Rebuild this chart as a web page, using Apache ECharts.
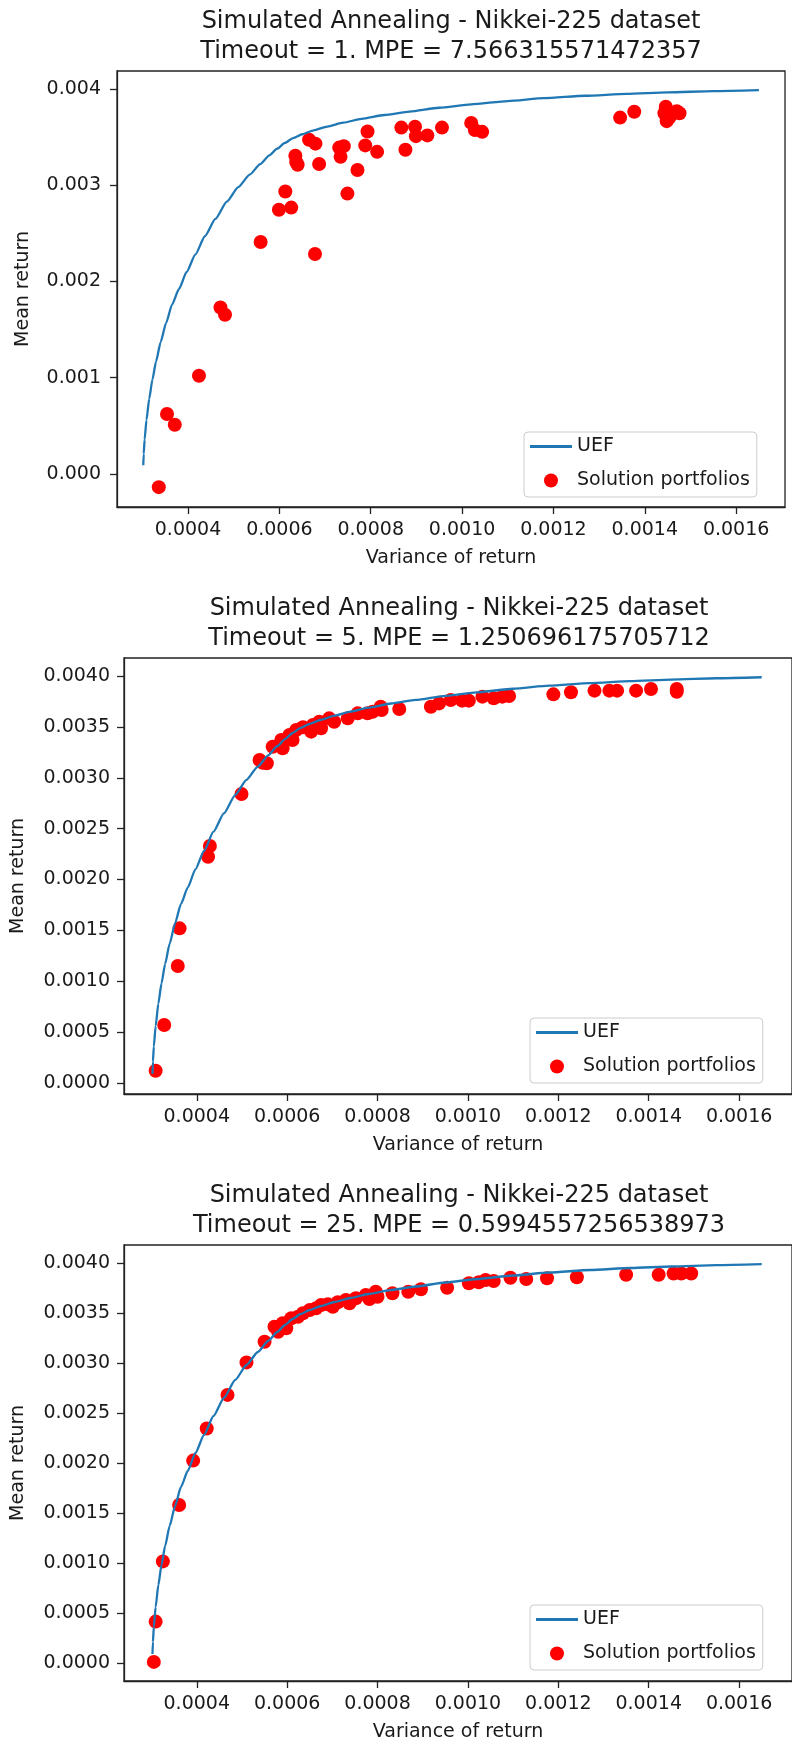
<!DOCTYPE html>
<html>
<head>
<meta charset="utf-8">
<script src="https://cdn.jsdelivr.net/npm/echarts@6/dist/echarts.min.js"></script>
<style>
html, body { margin: 0; padding: 0; background: #ffffff; }
#chart { width: 792px; height: 1745px; }
</style>
</head>
<body>
<div id="chart"></div>
<script>
// ---- Data ----
var titles = [
  'Simulated Annealing - Nikkei-225 dataset\nTimeout = 1. MPE = 7.566315571472357',
  'Simulated Annealing - Nikkei-225 dataset\nTimeout = 5. MPE = 1.250696175705712',
  'Simulated Annealing - Nikkei-225 dataset\nTimeout = 25. MPE = 0.5994557256538973'
];
var xAxisName = 'Variance of return';
var yAxisName = 'Mean return';
var legendNames = ['UEF', 'Solution portfolios'];

var xTicks = [0.0004, 0.0006, 0.0008, 0.0010, 0.0012, 0.0014, 0.0016];
var yTicks1 = [0.000, 0.001, 0.002, 0.003, 0.004];
var yTicks23 = [0.0000, 0.0005, 0.0010, 0.0015, 0.0020, 0.0025, 0.0030, 0.0035, 0.0040];

var uefVar = [0.000302, 0.000303, 0.000305, 0.000309, 0.000315, 0.000322, 0.00033, 0.00034, 0.000352, 0.000365, 0.00038, 0.000397, 0.000416, 0.000437, 0.00046, 0.000485, 0.00051, 0.000535, 0.000558, 0.000578, 0.000595, 0.000612, 0.00063, 0.00065, 0.000675, 0.000705, 0.00074, 0.00078, 0.00083, 0.000885, 0.00095, 0.00102, 0.0011, 0.00118, 0.00127, 0.00136, 0.00145, 0.00155, 0.00165];
var uefMean = [0.00009, 0.00021, 0.00036, 0.00056, 0.00078, 0.00098, 0.00117, 0.00137, 0.00157, 0.00176, 0.00192, 0.0021, 0.00228, 0.00247, 0.00265, 0.00283, 0.00298, 0.00311, 0.00322, 0.00331, 0.00338, 0.00344, 0.00349, 0.00353, 0.00357, 0.00361, 0.00365, 0.00369, 0.00373, 0.003765, 0.003805, 0.00384, 0.003875, 0.003905, 0.00393, 0.00395, 0.003965, 0.003978, 0.003988];

var sol1Var = [0.000336, 0.000354, 0.000371, 0.000424, 0.000471, 0.000481, 0.000559, 0.000599, 0.000613, 0.000626, 0.000635, 0.000637, 0.00064, 0.000665, 0.000679, 0.000687, 0.000678, 0.000731, 0.000741, 0.000734, 0.000749, 0.000771, 0.000788, 0.000793, 0.000814, 0.000867, 0.000876, 0.000897, 0.000899, 0.000924, 0.000956, 0.00102, 0.001028, 0.001044, 0.001346, 0.001377, 0.001446, 0.001443, 0.001448, 0.001459, 0.00147, 0.001476, 0.001454];
var sol1Mean = [-0.000137, 0.000623, 0.000512, 0.00102, 0.00173, 0.001655, 0.00241, 0.002746, 0.002935, 0.002768, 0.003306, 0.00324, 0.003213, 0.003473, 0.003432, 0.003221, 0.002286, 0.003391, 0.003406, 0.003295, 0.002913, 0.003158, 0.003414, 0.003558, 0.003347, 0.003599, 0.003369, 0.003607, 0.00351, 0.003518, 0.003599, 0.003648, 0.003573, 0.003555, 0.003703, 0.003763, 0.003815, 0.003748, 0.003666, 0.00374, 0.00377, 0.003748, 0.003703];

var sol2Var = [0.000309, 0.000328, 0.000358, 0.000362, 0.000425, 0.000429, 0.000499, 0.000539, 0.000546, 0.000555, 0.000568, 0.000587, 0.00059, 0.000605, 0.000612, 0.00062, 0.000635, 0.000653, 0.000657, 0.000671, 0.000675, 0.000693, 0.000704, 0.000734, 0.000756, 0.000778, 0.000789, 0.000807, 0.000809, 0.000848, 0.000918, 0.000936, 0.000962, 0.000987, 0.001002, 0.001032, 0.001057, 0.001076, 0.001091, 0.001189, 0.001228, 0.00128, 0.001313, 0.00133, 0.001372, 0.001405, 0.001462, 0.001462];
var sol2Mean = [0.00012, 0.00057, 0.00115, 0.00152, 0.002224, 0.00233, 0.00284, 0.003175, 0.003148, 0.003142, 0.003305, 0.003371, 0.003289, 0.00342, 0.003371, 0.003469, 0.003496, 0.003453, 0.003519, 0.003551, 0.003486, 0.003584, 0.003551, 0.003584, 0.003633, 0.003633, 0.003649, 0.003698, 0.003665, 0.003676, 0.003698, 0.003731, 0.003764, 0.003758, 0.003758, 0.003797, 0.003781, 0.003797, 0.003803, 0.00382, 0.00384, 0.003856, 0.003856, 0.003856, 0.003856, 0.003872, 0.003872, 0.003846];

var sol3Var = [0.000305, 0.000309, 0.000325, 0.000361, 0.000392, 0.000422, 0.000468, 0.00051, 0.00055, 0.000572, 0.00058, 0.00059, 0.000598, 0.000609, 0.000624, 0.000635, 0.00065, 0.000664, 0.000675, 0.00069, 0.000701, 0.000712, 0.00073, 0.000738, 0.000752, 0.000774, 0.000782, 0.000796, 0.0008, 0.000833, 0.000868, 0.000896, 0.000954, 0.001002, 0.001024, 0.001039, 0.001057, 0.001094, 0.001129, 0.001175, 0.001241, 0.00135, 0.001422, 0.001455, 0.001472, 0.001494];
var sol3Mean = [0.000011, 0.000414, 0.001016, 0.00158, 0.002024, 0.002345, 0.002681, 0.003006, 0.003213, 0.003363, 0.003313, 0.003397, 0.003347, 0.003447, 0.003463, 0.003497, 0.00353, 0.003547, 0.00358, 0.003587, 0.003563, 0.003607, 0.00363, 0.003597, 0.003647, 0.00368, 0.00364, 0.003713, 0.003663, 0.003697, 0.003713, 0.003737, 0.003753, 0.003797, 0.003807, 0.00383, 0.00382, 0.003853, 0.00384, 0.003847, 0.003857, 0.003883, 0.003883, 0.003895, 0.003895, 0.003895];

// ---- Build ----
function pairs(xs, ys) { return xs.map(function (x, i) { return [x, ys[i]]; }); }

var FONT = 'DejaVu Sans';
var TXT = '#1a1a1a';
var FS = 19;
var panels = [
  { grid: { left: 117, top: 71, width: 668, height: 436 }, xMin: 0.0002445, xMax: 0.001707, yMin: -0.000343, yMax: 0.004187,
    yTicks: yTicks1, yDec: 3, yLabelMargin: 16, yNameGap: 84, titleX: 451, titleTop: 7, legend: { left: 524, top: 432 },
    sol: pairs(sol1Var, sol1Mean) },
  { grid: { left: 124, top: 658, width: 670, height: 436 }, xMin: 0.000239, xMax: 0.001717, yMin: -0.000108, yMax: 0.004177,
    yTicks: yTicks23, yDec: 4, yLabelMargin: 14, yNameGap: 96, titleX: 459, titleTop: 594, legend: { left: 530, top: 1018 },
    sol: pairs(sol2Var, sol2Mean) },
  { grid: { left: 124, top: 1245, width: 670, height: 436 }, xMin: 0.000239, xMax: 0.001717, yMin: -0.00018, yMax: 0.00418,
    yTicks: yTicks23, yDec: 4, yLabelMargin: 14, yNameGap: 96, titleX: 459, titleTop: 1181, legend: { left: 530, top: 1605 },
    sol: pairs(sol3Var, sol3Mean) }
];

var option = {
  animation: false,
  backgroundColor: '#ffffff',
  textStyle: { fontFamily: FONT },
  title: [], grid: [], xAxis: [], yAxis: [], legend: [], series: []
};

var uefData = pairs(uefVar, uefMean);

panels.forEach(function (p, i) {
  option.title.push({
    text: titles[i], left: p.titleX, top: p.titleTop, textAlign: 'center', padding: 0,
    textStyle: { fontFamily: FONT, fontSize: 24, fontWeight: 'normal', lineHeight: 30, color: TXT }
  });
  option.grid.push({
    left: p.grid.left, top: p.grid.top, width: p.grid.width, height: p.grid.height,
    show: true, borderColor: '#222', borderWidth: 1.3, backgroundColor: 'transparent', containLabel: false
  });
  option.xAxis.push({
    type: 'value', gridIndex: i, min: p.xMin, max: p.xMax,
    name: xAxisName, nameLocation: 'middle', nameGap: 42,
    nameTextStyle: { fontFamily: FONT, fontSize: FS, color: TXT },
    axisLine: { show: true, onZero: false, lineStyle: { color: '#222', width: 1.3 } },
    axisTick: { show: true, inside: false, length: 7, customValues: xTicks, lineStyle: { color: '#222', width: 1.3 } },
    axisLabel: { show: true, margin: 14, fontFamily: FONT, fontSize: FS, color: TXT, customValues: xTicks,
      formatter: function (v) { return v.toFixed(4); } },
    splitLine: { show: false }
  });
  option.yAxis.push({
    type: 'value', gridIndex: i, min: p.yMin, max: p.yMax,
    name: yAxisName, nameLocation: 'middle', nameGap: p.yNameGap,
    nameTextStyle: { fontFamily: FONT, fontSize: FS, color: TXT },
    axisLine: { show: true, onZero: false, lineStyle: { color: '#222', width: 1.3 } },
    axisTick: { show: true, inside: false, length: 7, customValues: p.yTicks, lineStyle: { color: '#222', width: 1.3 } },
    axisLabel: { show: true, margin: p.yLabelMargin, fontFamily: FONT, fontSize: FS, color: TXT, customValues: p.yTicks,
      formatter: (function (d) { return function (v) { return v.toFixed(d); }; })(p.yDec) },
    splitLine: { show: false }
  });
  option.legend.push({
    left: p.legend.left, top: p.legend.top, orient: 'vertical',
    data: [
      { name: legendNames[0], icon: 'path://M0,0H42V3H0Z' },
      { name: legendNames[1], icon: 'circle' }
    ],
    itemWidth: 42, itemHeight: 14, itemGap: 15, itemTextGap: 16,
    padding: [5, 7, 7, 6],
    backgroundColor: 'rgba(255,255,255,0.85)', borderColor: '#cccccc', borderWidth: 1, borderRadius: 4,
    selectedMode: false,
    textStyle: { fontFamily: FONT, fontSize: FS, lineHeight: 19, color: TXT }
  });
  option.series.push({
    name: legendNames[0], type: 'line', xAxisIndex: i, yAxisIndex: i,
    data: uefData, showSymbol: false, smooth: 0.2, smoothMonotone: 'x', z: 4,
    lineStyle: { color: '#1f77b4', width: 2.3 }, itemStyle: { color: '#1f77b4' }
  });
  option.series.push({
    name: legendNames[1], type: 'scatter', xAxisIndex: i, yAxisIndex: i,
    data: p.sol, symbol: 'circle', symbolSize: 14, z: 3,
    itemStyle: { color: '#ff0000', opacity: 1 }
  });
});

var chart = echarts.init(document.getElementById('chart'), null, { renderer: 'canvas' });
chart.setOption(option);
</script>
</body>
</html>
